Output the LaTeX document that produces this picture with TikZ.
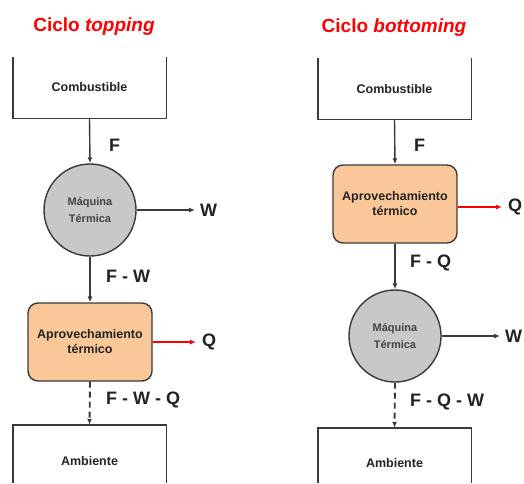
\documentclass[tikz,border=0pt]{standalone}
\usepackage{fontspec}
\setmainfont{Liberation Sans}
\usetikzlibrary{arrows.meta}
\definecolor{linegray}{HTML}{3A3A3A}
\definecolor{boxorange}{HTML}{FAC898}
\definecolor{circgray}{HTML}{C8C8C8}
\definecolor{txtdark}{HTML}{222222}
\tikzset{
  x=1pt, y=-1pt,
  title/.style={text=red, font=\fontsize{19}{21}\selectfont\bfseries, inner sep=0pt},
  openbox/.style={minimum width=153pt, minimum height=61pt, inner sep=0pt, font=\fontsize{12.5}{14}\selectfont\bfseries, text=txtdark},
  apbox/.style={draw=linegray, line width=1.4pt, fill=boxorange, rounded corners=10pt, minimum width=124pt, minimum height=78pt, inner sep=0pt, align=center, font=\fontsize{12.5}{15}\selectfont\bfseries, text=txtdark},
  machine/.style={circle, draw=linegray, line width=1.4pt, fill=circgray, minimum size=92pt, inner sep=0pt, align=center, font=\fontsize{11}{17.5}\selectfont\bfseries, text=txtdark!85},
  flowlabel/.style={anchor=west, inner sep=0pt, font=\fontsize{18}{20}\selectfont\bfseries, text=txtdark},
  boxline/.style={draw=linegray, line width=1.4pt},
  flow/.style={draw=linegray, line width=1.4pt, -{Latex[length=6pt,width=5pt]}},
  redflow/.style={draw=red, line width=1.4pt, -{Latex[length=6pt,width=5pt]}},
  lossflow/.style={flow, line width=1.9pt, dash pattern=on 6pt off 4pt},
}
\begin{document}
\begin{tikzpicture}
\useasboundingbox (0,0) rectangle (524,483);
% ---------- Left: topping ----------
\node[title] (t1) at (94,27) {Ciclo \textit{topping}};
\node[openbox] (c1) at (89.5,87.5) {Combustible};
\draw[boxline] (c1.north west) -- (c1.south west) -- (c1.south east) -- (c1.north east);
\node[machine] (m1) at (90,210) {Máquina\\Térmica};
\node[apbox] (a1) at (90,342) {Aprovechamiento\\térmico};
\node[openbox, minimum height=72pt] (e1) at (89.5,461) {Ambiente};
\draw[boxline] (e1.west |- 0,483) -- (e1.north west) -- (e1.north east) -- (e1.east |- 0,483);
\coordinate (w1) at (195,210);
\coordinate (q1) at (196,342);
\draw[flow] (c1.south) -- (m1.north);
\draw[flow] (m1.east) -- (w1);
\draw[flow] (m1.south) -- (a1.north);
\draw[redflow] (a1.east) -- (q1);
\draw[lossflow] (a1.south) -- (e1.north);
\node[flowlabel] (lf1) at (109,145) {F};
\node[flowlabel] (lw1) at (200,210) {W};
\node[flowlabel] (lfw1) at (106,276) {F - W};
\node[flowlabel] (lq1) at (202,342) {Q};
\node[flowlabel] (lfwq1) at (106,400) {F - W - Q};
% ---------- Right: bottoming ----------
\node[title] (t2) at (394,28) {Ciclo \textit{bottoming}};
\node[openbox] (c2) at (394.5,89) {Combustible};
\draw[boxline] (c2.north west) -- (c2.south west) -- (c2.south east) -- (c2.north east);
\node[apbox] (a2) at (395,204) {Aprovechamiento\\térmico};
\node[machine] (m2) at (395,336) {Máquina\\Térmica};
\node[openbox, minimum height=70pt] (e2) at (394.5,463) {Ambiente};
\draw[boxline] (e2.west |- 0,483) -- (e2.north west) -- (e2.north east) -- (e2.east |- 0,483);
\coordinate (q2) at (502,207);
\coordinate (w2) at (500,336);
\draw[flow] (c2.south) -- (a2.north);
\draw[redflow] (a2.east |- q2) -- (q2);
\draw[flow] (a2.south) -- (m2.north);
\draw[flow] (m2.east) -- (w2);
\draw[lossflow] (m2.south) -- (e2.north);
\node[flowlabel] (lf2) at (414,145) {F};
\node[flowlabel] (lq2) at (508,207) {Q};
\node[flowlabel] (lfq2) at (410,263) {F - Q};
\node[flowlabel] (lw2) at (505,336) {W};
\node[flowlabel] (lfqw2) at (410,402) {F - Q - W};
\end{tikzpicture}
\end{document}
